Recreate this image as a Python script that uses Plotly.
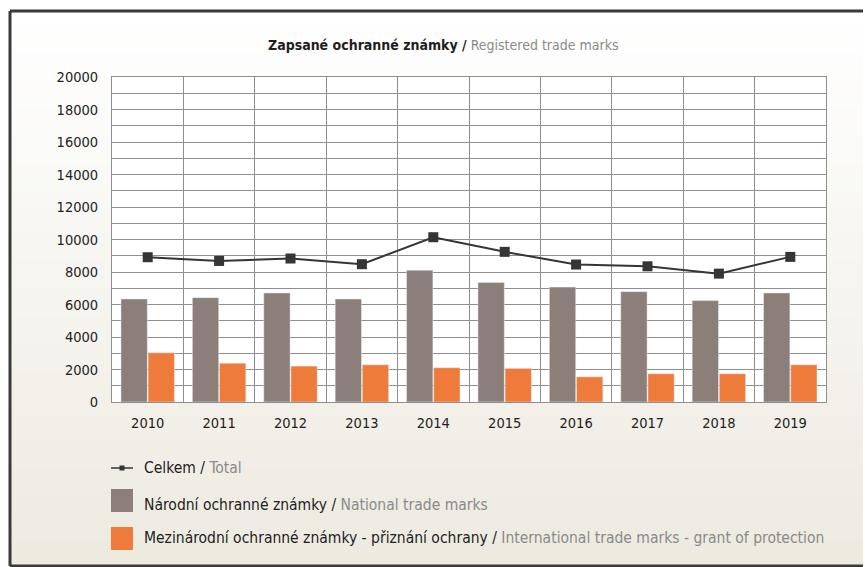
import plotly.graph_objects as go

years = ["2010", "2011", "2012", "2013", "2014", "2015", "2016", "2017", "2018", "2019"]
national = [6340, 6420, 6710, 6340, 8110, 7360, 7070, 6790, 6240, 6710]
international = [3030, 2390, 2210, 2290, 2110, 2070, 1550, 1740, 1740, 2290]
total = [8910, 8680, 8830, 8480, 10140, 9240, 8460, 8350, 7900, 8930]
y_ticks = [0, 2000, 4000, 6000, 8000, 10000, 12000, 14000, 16000, 18000, 20000]

FONT = "DejaVu Sans Condensed, DejaVu Sans, sans-serif"
DARK = "#1e1e1e"
GREY_TXT = "#8a8a8a"
BAR_GREY = "#8c7e79"
BAR_ORANGE = "#ef7b3a"
LINE_C = "#353535"
GRID = "#8e8e8e"

W, H = 865, 567
L, R, T, B = 112, 826, 77, 402


def fx(px):
    return (px - L) / (R - L)


def fy(py):
    return (B - py) / (B - T)


def fnt(size, color=DARK):
    return dict(family=FONT, size=size, color=color)


fig = go.Figure()
fig.add_trace(go.Bar(x=years, y=national, name="Národní", marker_color=BAR_GREY,
                     showlegend=False))
fig.add_trace(go.Bar(x=years, y=international, name="Mezinárodní", marker_color=BAR_ORANGE,
                     showlegend=False))
fig.add_trace(go.Scatter(x=years, y=total, name="Celkem", mode="lines+markers",
                         line=dict(color=LINE_C, width=2),
                         marker=dict(symbol="square", size=10, color=LINE_C),
                         showlegend=False))

shapes = []
# background gradient (white to beige) inside the frame
steps = 40
top_c = (255, 255, 255)
bot_c = (237, 234, 224)
y0p, y1p = 11, 566
for i in range(steps):
    t = i / (steps - 1)
    c = tuple(int(round(top_c[k] + (bot_c[k] - top_c[k]) * t)) for k in range(3))
    ya = y0p + (y1p - y0p) * i / steps
    yb = y0p + (y1p - y0p) * (i + 1) / steps + 0.5
    shapes.append(dict(type="rect", xref="paper", yref="paper", layer="below",
                       x0=fx(10), x1=fx(863), y0=fy(yb), y1=fy(ya),
                       fillcolor="rgb(%d,%d,%d)" % c, line=dict(width=0)))
# white plot area
shapes.append(dict(type="rect", xref="x domain", yref="y domain", layer="below",
                   x0=0, x1=1, y0=0, y1=1, fillcolor="white", line=dict(width=0)))
# frame lines
for (xa, ya, xb, yb) in [(10, 11, 863, 11), (10, 11, 10, 566), (10, 566, 863, 566)]:
    shapes.append(dict(type="line", xref="paper", yref="paper",
                       x0=fx(xa), y0=fy(ya), x1=fx(xb), y1=fy(yb),
                       line=dict(color="#3a3a3a", width=3)))

# custom legend swatches
shapes.append(dict(type="line", xref="paper", yref="paper",
                   x0=fx(111), x1=fx(133), y0=fy(468), y1=fy(468),
                   line=dict(color=LINE_C, width=1.5)))
shapes.append(dict(type="rect", xref="paper", yref="paper",
                   x0=fx(119.5), x1=fx(124.5), y0=fy(470.5), y1=fy(465.5),
                   fillcolor=LINE_C, line=dict(width=0)))
shapes.append(dict(type="rect", xref="paper", yref="paper",
                   x0=fx(111), x1=fx(133), y0=fy(512), y1=fy(489),
                   fillcolor=BAR_GREY, line=dict(width=0)))
shapes.append(dict(type="rect", xref="paper", yref="paper",
                   x0=fx(111), x1=fx(133), y0=fy(550), y1=fy(527),
                   fillcolor=BAR_ORANGE, line=dict(width=0)))


def two_tone(a, b, bold=False):
    if bold:
        a = "<b>%s /</b> " % a
    else:
        a = "%s / " % a
    return ("<span style='color:%s'>%s</span><span style='color:%s'>%s</span>"
            % (DARK, a, GREY_TXT, b))


annotations = [
    dict(text=two_tone("Zapsané ochranné známky", "Registered trade marks", bold=True),
         xref="paper", yref="paper", x=fx(443), y=fy(45), showarrow=False,
         xanchor="center", yanchor="middle", font=fnt(14)),
    dict(text=two_tone("Celkem", "Total"), xref="paper", yref="paper",
         x=fx(142), y=fy(468), showarrow=False, xanchor="left", yanchor="middle",
         font=fnt(15.5)),
    dict(text=two_tone("Národní ochranné známky", "National trade marks"),
         xref="paper", yref="paper", x=fx(142), y=fy(505), showarrow=False,
         xanchor="left", yanchor="middle", font=fnt(15.5)),
    dict(text=two_tone("Mezinárodní ochranné známky - přiznání ochrany",
                       "International trade marks - grant of protection"),
         xref="paper", yref="paper", x=fx(142), y=fy(538), showarrow=False,
         xanchor="left", yanchor="middle", font=fnt(15.5)),
]

fig.update_layout(
    width=W, height=H,
    margin=dict(l=L, r=W - R, t=T, b=H - B, pad=0),
    paper_bgcolor="white",
    plot_bgcolor="rgba(0,0,0,0)",
    barmode="group", bargap=0.24, bargroupgap=0.03,
    font=fnt(14),
    shapes=shapes, annotations=annotations,
    showlegend=False,
    xaxis=dict(type="category", range=[-0.5, len(years) - 0.5], tickson="boundaries",
               showgrid=True, gridcolor=GRID,
               gridwidth=1, showline=True, linecolor=GRID, linewidth=1, mirror=True,
               ticks="", ticklabelstandoff=8, tickfont=fnt(14.5)),
    yaxis=dict(range=[0, 20000], tickvals=y_ticks, tickformat="d", showgrid=True,
               gridcolor=GRID, gridwidth=1, showline=True, linecolor=GRID, linewidth=1,
               mirror=True, zeroline=False, ticks="", ticklabelstandoff=10,
               tickfont=fnt(14.5),
               minor=dict(dtick=1000, tick0=0, showgrid=True, gridcolor=GRID, gridwidth=1)),
)

fig.write_html("out.html", config={"displayModeBar": False},
               post_script="document.body.style.margin='0';")
